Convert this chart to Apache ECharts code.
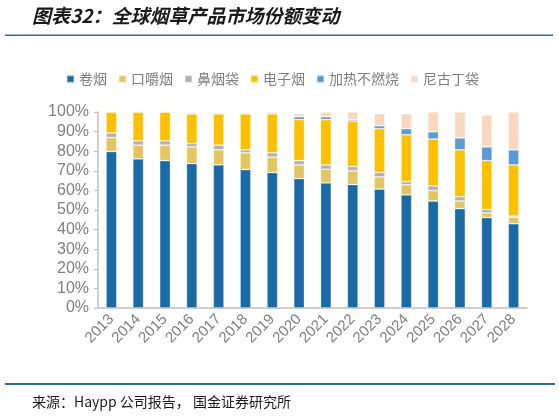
<!DOCTYPE html>
<html>
<head>
<meta charset="utf-8">
<script src="https://cdn.jsdelivr.net/npm/echarts@6/dist/echarts.min.js"></script>
<style>
html,body{margin:0;padding:0;background:#fff;}
#c{width:559px;height:416px;}
</style>
</head>
<body>
<div id="c"></div>
<script>
var years = ['2013','2014','2015','2016','2017','2018','2019','2020','2021','2022','2023','2024','2025','2026','2027','2028'];
var cigarettes = [79.8,76.1,75.2,73.7,73.0,70.6,69.1,66.0,63.8,63.0,60.7,57.7,54.6,50.7,46.1,43.0];
var chewing    = [7.2,7.0,7.9,8.5,7.7,8.6,7.9,7.0,7.0,7.0,6.2,5.2,5.3,3.9,2.4,3.3];
var snus       = [2.3,2.2,2.2,1.7,2.4,1.5,2.2,2.2,2.2,2.2,2.2,1.6,2.4,2.2,1.7,0.6];
var ecig       = [10.7,14.7,14.7,15.2,16.0,18.4,19.9,20.9,23.1,23.2,22.4,23.9,23.9,23.9,25.0,26.1];
var hnb        = [0,0,0,0,0,0,0,1.5,1.5,0.7,1.5,3.1,3.7,6.1,7.0,7.7];
var pouches    = [0,0,0,0,0,0,0.9,1.5,2.4,3.9,6.1,7.6,10.1,13.2,16.3,19.3];
var seriesNames = ['卷烟','口嚼烟','鼻烟袋','电子烟','加热不燃烧','尼古丁袋'];
var colors = ['#1a6aa5','#e3c662','#b2b2b2','#ffc000','#5b9bd5','#fad7bf'];
var dataSets = [cigarettes, chewing, snus, ecig, hnb, pouches];

var chart = echarts.init(document.getElementById('c'));
var series = dataSets.map(function(d, i){
  return {
    name: seriesNames[i], type: 'bar', stack: 'total', data: d,
    barWidth: '40%',
    itemStyle: {color: colors[i], borderColor: 'rgba(255,255,255,0.35)', borderWidth: 0.8},
    emphasis: {disabled: true}
  };
});
chart.setOption({
  animation: false,
  color: colors,
  legend: {
    left: 61, top: 67,
    itemWidth: 7, itemHeight: 7, itemGap: 11,
    icon: 'rect',
    textStyle: {fontFamily: 'Noto Sans CJK SC', fontSize: 14, color: '#7f7f7f'},
    data: seriesNames
  },
  grid: {left: 98, right: 32, top: 112, bottom: 108},
  xAxis: {
    type: 'category', data: years,
    axisLine: {lineStyle: {color: '#bfbfbf', width: 1.5}},
    axisTick: {show: false},
    axisLabel: {rotate: 45, fontFamily: 'Liberation Sans', fontSize: 15, color: '#7f7f7f', margin: 9, interval: 0}
  },
  yAxis: {
    type: 'value', min: 0, max: 100, interval: 10,
    axisLine: {show: true, lineStyle: {color: '#bfbfbf', width: 1.5}},
    axisTick: {show: true, length: 4, lineStyle: {color: '#bfbfbf'}},
    splitLine: {show: false},
    axisLabel: {formatter: '{value}%', fontFamily: 'Liberation Sans', fontSize: 16, color: '#7f7f7f', margin: 9}
  },
  graphic: [
    {type: 'text', left: 32, top: 6, style: {text: '图表32：全球烟草产品市场份额变动', font: 'italic bold 19px "Noto Sans CJK SC"', fill: '#1a1a1a'}},
    {type: 'rect', shape: {x: 5, y: 34.5, width: 548, height: 1.5}, style: {fill: '#2f6d8c'}},
    {type: 'rect', shape: {x: 5, y: 383, width: 550, height: 2}, style: {fill: '#2f6d8c'}},
    {type: 'text', left: 32, top: 395, style: {text: '来源：Haypp 公司报告， 国金证券研究所', font: '14px "Noto Sans CJK SC"', fill: '#1a1a1a'}}
  ],
  series: series
});
</script>
</body>
</html>
